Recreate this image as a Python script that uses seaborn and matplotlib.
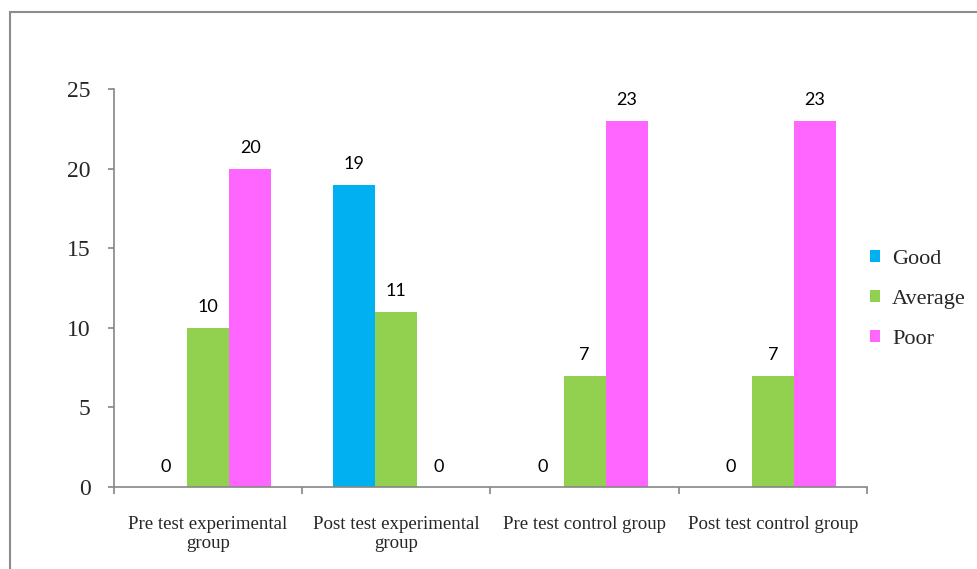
import matplotlib
matplotlib.use("Agg")
import matplotlib.pyplot as plt
from matplotlib.patches import Rectangle
from matplotlib.ticker import FixedLocator
import seaborn as sns
import pandas as pd

groups = ["Pre test experimental\ngroup", "Post test experimental\ngroup",
          "Pre test control group", "Post test control group"]
levels = ["Good", "Average", "Poor"]
good = [0, 19, 0, 0]
average = [10, 11, 7, 7]
poor = [20, 0, 23, 23]
colors = ["#00B0F0", "#92D050", "#FF66FF"]

rows = []
for g, a, p, name in zip(good, average, poor, groups):
    rows += [(name, "Good", g), (name, "Average", a), (name, "Poor", p)]
df = pd.DataFrame(rows, columns=["group", "level", "count"])

sns.set_theme(style="white")
serif = ["Liberation Serif", "DejaVu Serif"]

fig = plt.figure(figsize=(9.78, 5.69), dpi=100)
ax = fig.add_axes([114 / 978, 1 - 487 / 569, (867 - 114) / 978, (487 - 89) / 569])

sns.barplot(data=df, x="group", y="count", hue="level", hue_order=levels,
            order=groups, palette=colors, width=0.67, gap=0, saturation=1,
            linewidth=0, ax=ax, legend=True)

for cont in ax.containers:
    ax.bar_label(cont, fmt="%d", padding=9, fontsize=13, family="Lato",
                 color="black")

ax.set_xlim(-0.5, 3.5)
ax.set_ylim(0, 25)
ax.set_yticks([0, 5, 10, 15, 20, 25])
ax.set_xlabel("")
ax.set_ylabel("")

spine_color = "#868686"
for side in ["top", "right"]:
    ax.spines[side].set_visible(False)
for side in ["left", "bottom"]:
    ax.spines[side].set_color(spine_color)
    ax.spines[side].set_linewidth(1.2)

ax.tick_params(axis="y", which="major", direction="out", length=4,
               width=1.2, color=spine_color, pad=13, labelsize=17, left=True)
for lab in ax.get_yticklabels():
    lab.set_family(serif)

ax.xaxis.set_minor_locator(FixedLocator([-0.5, 0.5, 1.5, 2.5, 3.5]))
ax.tick_params(axis="x", which="major", length=0, pad=21, labelsize=13.6)
ax.tick_params(axis="x", which="minor", direction="out", length=5,
               width=1.2, color=spine_color, bottom=True)
for lab in ax.get_xticklabels():
    lab.set_family(serif)
    lab.set_linespacing(1.15)

leg = ax.legend(loc="center left", bbox_to_anchor=(0.977, 0.471), frameon=False,
                prop={"family": serif, "size": 16}, handlelength=0.45,
                handleheight=0.45, handletextpad=0.55, labelspacing=0.95)

fig.add_artist(Rectangle((10 / 978, -0.1), 1.2, 1 - 12 / 569 + 0.1,
                         transform=fig.transFigure, fill=False,
                         edgecolor="#8c8c8c", linewidth=1.5))

fig.savefig("out.png", dpi=100, facecolor="white")
